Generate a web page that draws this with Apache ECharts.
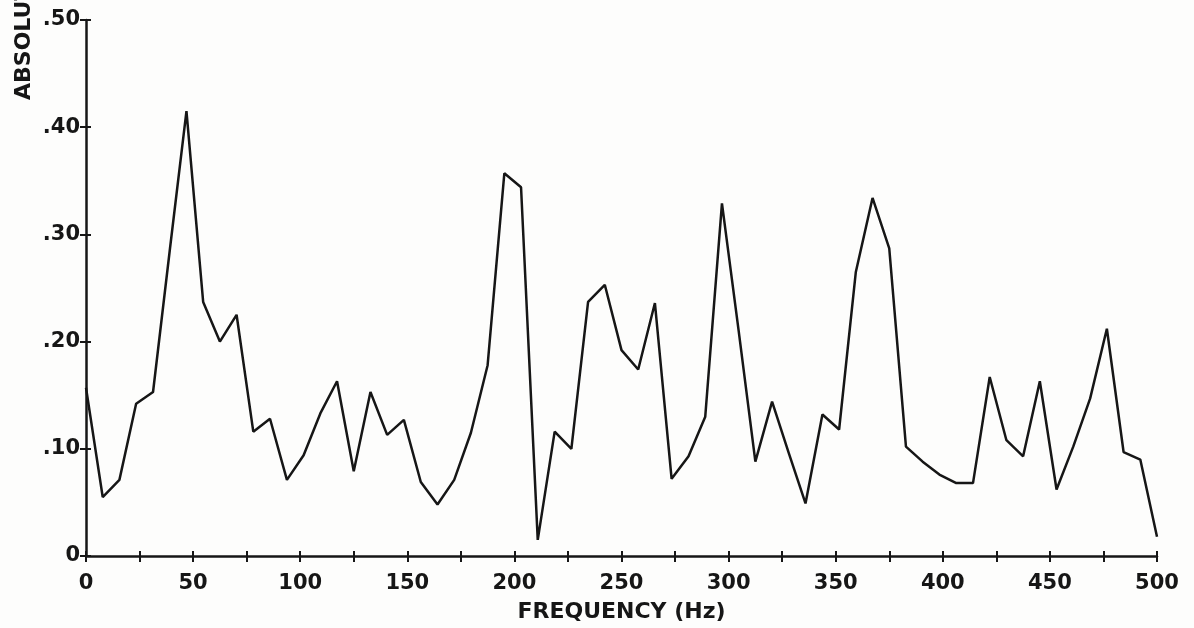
<!DOCTYPE html>
<html>
<head>
<meta charset="utf-8">
<script src="https://cdn.jsdelivr.net/npm/echarts@6/dist/echarts.min.js"></script>
<style>
  html, body { margin: 0; padding: 0; background: #fdfdfc; }
  #chart { width: 1194px; height: 628px; }
</style>
</head>
<body>
<div id="chart"></div>
<script>
// sample frequencies (Hz)
const frequencies = [0, 7.8, 15.6, 23.4, 31.3, 39.1, 46.9, 54.7, 62.5, 70.3, 78.1, 85.9, 93.8,
  101.6, 109.4, 117.2, 125, 132.8, 140.6, 148.4, 156.3, 164.1, 171.9, 179.7, 187.5, 195.3,
  203.1, 210.9, 218.8, 226.6, 234.4, 242.2, 250, 257.8, 265.6, 273.4, 281.3, 289.1, 296.9,
  304.7, 312.5, 320.3, 328.1, 335.9, 343.8, 351.6, 359.4, 367.2, 375, 382.8, 390.6, 398.4,
  406.3, 414.1, 421.9, 429.7, 437.5, 445.3, 453.1, 460.9, 468.8, 476.6, 484.4, 492.2, 500]

// absolute value
const absValues = [0.157, 0.055, 0.071, 0.142, 0.153, 0.285, 0.415, 0.237, 0.200, 0.225,
  0.116, 0.128, 0.071, 0.094, 0.133, 0.163, 0.079, 0.153, 0.113, 0.127, 0.069, 0.048,
  0.071, 0.115, 0.178, 0.357, 0.344, 0.015, 0.116, 0.100, 0.237, 0.253, 0.192, 0.174,
  0.236, 0.072, 0.093, 0.130, 0.329, 0.210, 0.088, 0.144, 0.096, 0.049, 0.132, 0.118,
  0.265, 0.334, 0.287, 0.102, 0.088, 0.076, 0.068, 0.068, 0.167, 0.108, 0.093, 0.163,
  0.062, 0.102, 0.147, 0.212, 0.097, 0.090, 0.018]

const xLabels = ['0', '50', '100', '150', '200', '250', '300', '350', '400', '450', '500']
const yLabels = ['0', '.10', '.20', '.30', '.40', '.50']

const ink = '#161616'
const font = 'DejaVu Sans'

function xLabel(v) {
  return v % 50 === 0 ? xLabels[v / 50] : ''
}
function yLabel(v) {
  return yLabels[Math.round(v * 10)]
}

const myChart = echarts.init(document.getElementById('chart'))

const points = frequencies.map((f, i) => [f, absValues[i]])

const baseX = { type: 'value', min: 0, max: 500, interval: 25, splitLine: { show: false } }
const baseY = { type: 'value', min: 0, max: 0.5, interval: 0.1, splitLine: { show: false } }
const tickStyle = { color: ink, width: 2 }

myChart.setOption({
  backgroundColor: '#fdfdfc',
  animation: false,
  grid: { left: 86, right: 37, top: 20, bottom: 72 },
  xAxis: [
    Object.assign({}, baseX, {
      name: 'FREQUENCY (Hz)',
      nameLocation: 'middle',
      nameGap: 45,
      nameTextStyle: { color: ink, fontFamily: font, fontSize: 22, fontWeight: 'bold' },
      axisLine: { lineStyle: { color: ink, width: 2.5 } },
      axisTick: { length: 6, lineStyle: tickStyle },
      axisLabel: { color: ink, fontFamily: font, fontSize: 21, fontWeight: 'bold', margin: 17, formatter: xLabel }
    }),
    Object.assign({}, baseX, {
      position: 'bottom',
      axisLine: { show: false },
      axisTick: { inside: true, length: 5, lineStyle: tickStyle },
      axisLabel: { show: false }
    })
  ],
  yAxis: [
    Object.assign({}, baseY, {
      axisLine: { lineStyle: { color: ink, width: 2.5 } },
      axisTick: { length: 6, lineStyle: tickStyle },
      axisLabel: { color: ink, fontFamily: font, fontSize: 21, fontWeight: 'bold', margin: 6, formatter: yLabel }
    }),
    Object.assign({}, baseY, {
      position: 'left',
      offset: 0,
      axisLine: { show: false },
      axisTick: { inside: true, length: 5, lineStyle: tickStyle },
      axisLabel: { show: false }
    })
  ],
  graphic: [{
    type: 'text',
    x: 24,
    y: 100,
    rotation: Math.PI / 2,
    style: {
      text: 'ABSOLUTE VALUE',
      fill: ink,
      font: 'bold 22px "DejaVu Sans"',
      textAlign: 'left',
      textVerticalAlign: 'middle'
    }
  }],
  series: [{
    type: 'line',
    data: points,
    showSymbol: false,
    lineStyle: { color: ink, width: 2.5 }
  }]
})
</script>
</body>
</html>
